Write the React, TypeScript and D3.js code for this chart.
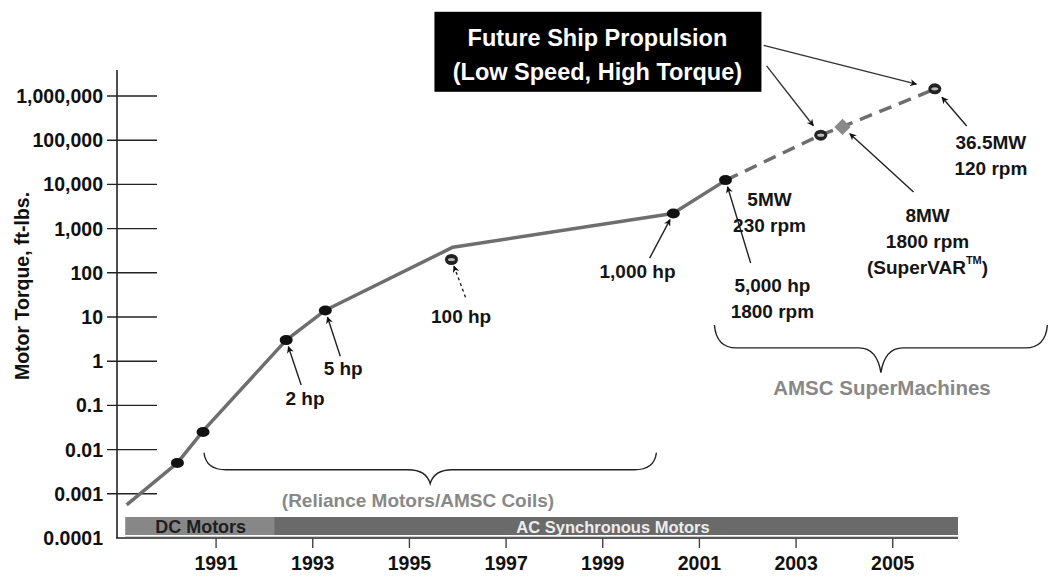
import React from "react";
import * as d3 from "d3";

// trend of motor torque (ft-lbs) by year
const trendYears = [1989.15, 1990.2, 1990.75, 1992.45, 1993.25, 1995.9, 2000.45, 2001.55];
const trendValues = [0.00056, 0.005, 0.028, 3, 14, 380, 2200, 12500];
const projYears = [2001.55, 2003.5, 2003.95, 2005.85];
const projValues = [12500, 130000, 200000, 1400000];

// marked machines
const pointYears = [1990.2, 1990.73, 1992.45, 1993.26, 1995.87, 2000.46, 2001.54, 2003.51, 2003.96, 2005.87];
const pointValues = [0.005, 0.025, 3, 14, 200, 2200, 12500, 130000, 200000, 1450000];
const pointKinds = ["dot", "dot", "dot", "dot", "ring", "dot", "dot", "ring", "diamond", "ring"];

const yTickValues = [1e-4, 1e-3, 1e-2, 0.1, 1, 10, 100, 1e3, 1e4, 1e5, 1e6];
const yTickLabels = ["0.0001", "0.001", "0.01", "0.1", "1", "10", "100", "1,000", "10,000", "100,000", "1,000,000"];
const xTickYears = [1991, 1993, 1995, 1997, 1999, 2001, 2003, 2005];

// annotation: text lines, label position, arrow tail, target point index
const notes = [
  { lines: ["2 hp"], at: [1992.84, 0.147], tail: [1992.76, 0.29], target: 2, dashed: false },
  { lines: ["5 hp"], at: [1993.63, 0.7], tail: [1993.57, 1.3], target: 3, dashed: false },
  { lines: ["100 hp"], at: [1996.07, 10.5], tail: [1996.16, 28], target: 4, dashed: true },
  { lines: ["1,000 hp"], at: [1999.72, 110], tail: [1999.97, 215], target: 5, dashed: false },
  { lines: ["5,000 hp", "1800 rpm"], at: [2002.51, 53], tail: [2002.06, 166], target: 6, dashed: false },
  { lines: ["5MW", "230 rpm"], at: [2002.45, 4700], tail: null, target: -1, dashed: false },
  { lines: ["8MW", "1800 rpm", "(SuperVAR"], at: [2005.72, 2040], tail: [2005.43, 6750], target: 8, dashed: false },
  { lines: ["36.5MW", "120 rpm"], at: [2007.03, 91000], tail: [2006.53, 210000], target: 9, dashed: false },
];

const boxArrows = [
  { tail: [2002.33, 1.4e7], target: 9, gap: 19 },
  { tail: [2002.39, 4.8e6], target: 7, gap: 12 },
];

const W = 1050;
const H = 577;
const FONT = "'Liberation Sans', Arial, sans-serif";

export default function App() {
  const x = d3.scaleLinear().domain([1988.95, 2006.35]).range([117, 958]);
  const y = d3.scaleLog().domain([1e-4, 1e6]).range([538, 96]);

  const toPath = d3.line<[number, number]>().x(d => x(d[0])).y(d => y(d[1]));
  const trendPath = toPath(trendYears.map((t, i) => [t, trendValues[i]]));
  const projPath = toPath(projYears.map((t, i) => [t, projValues[i]]));

  const arrow = (tx: number, ty: number, px: number, py: number, gap: number) => {
    const dx = px - tx, dy = py - ty;
    const len = Math.sqrt(dx * dx + dy * dy);
    return { x1: tx, y1: ty, x2: px - (dx / len) * gap, y2: py - (dy / len) * gap };
  };

  const brace = (x0: number, x1: number, top: number, mid: number, tip: number) => {
    const xm = (x0 + x1) / 2;
    return `M${x0},${top} Q${x0 + 2},${mid} ${x0 + 22},${mid} L${xm - 22},${mid} Q${xm - 4},${mid} ${xm},${tip} Q${xm + 4},${mid} ${xm + 22},${mid} L${x1 - 22},${mid} Q${x1 - 2},${mid} ${x1},${top}`;
  };

  const barTop = 517, barBot = 535;
  const dcEnd = x(1992.2);

  return (
    <div style={{ position: "absolute", left: 0, top: 0 }}>
      <svg width={W} height={H} style={{ display: "block", background: "#fff" }} fontFamily={FONT} fontWeight="bold">
        <defs>
          <marker id="ah" viewBox="0 0 10 10" refX="9" refY="5" markerWidth="7" markerHeight="7" orient="auto-start-reverse" markerUnits="userSpaceOnUse">
            <path d="M0,0 L10,5 L0,10 L3,5 Z" fill="#111" />
          </marker>
        </defs>

        {/* bottom era bar */}
        <rect x={x(1989.12)} y={barTop} width={dcEnd - x(1989.12)} height={barBot - barTop} fill="#878787" />
        <rect x={dcEnd} y={barTop} width={x(2006.35) - dcEnd} height={barBot - barTop} fill="#6a6a6a" />
        <line x1={x(1989.12)} x2={x(2006.35)} y1={barBot + 1.5} y2={barBot + 1.5} stroke="#d0d0d0" strokeWidth={1} />
        <text x={(x(1989.12) + dcEnd) / 2 + 1} y={(barTop + barBot) / 2 + 1} textAnchor="middle" dominantBaseline="central" fontSize={18} fill="#1e1e1e">DC Motors</text>
        <text x={613} y={(barTop + barBot) / 2 + 1} textAnchor="middle" dominantBaseline="central" fontSize={16.5} fill="#ededed">AC Synchronous Motors</text>

        {/* axes */}
        <line x1={117} x2={117} y1={70} y2={538} stroke="#222" strokeWidth={1.6} />
        <line x1={116} x2={x(2006.35)} y1={538} y2={538} stroke="#222" strokeWidth={1.6} />
        {yTickValues.map((v, i) => (
          <g key={"yt" + i}>
            {i > 0 && <line x1={107} x2={157} y1={y(v)} y2={y(v)} stroke="#222" strokeWidth={1.4} />}
            <text x={103} y={y(v)} textAnchor="end" dominantBaseline="central" fontSize={19.5} fill="#111">{yTickLabels[i]}</text>
          </g>
        ))}
        {xTickYears.map(t => (
          <g key={"xt" + t}>
            <line x1={x(t)} x2={x(t)} y1={538} y2={548} stroke="#444" strokeWidth={1.4} />
            <text x={x(t)} y={563} textAnchor="middle" dominantBaseline="central" fontSize={19.5} fill="#111">{t}</text>
          </g>
        ))}
        <text transform={`translate(22,286) rotate(-90)`} textAnchor="middle" dominantBaseline="central" fontSize={19.5} fill="#111">Motor Torque, ft-lbs.</text>

        {/* trend lines */}
        <path d={trendPath || ""} fill="none" stroke="#6e6e6e" strokeWidth={3.5} strokeLinejoin="round" />
        <path d={projPath || ""} fill="none" stroke="#6e6e6e" strokeWidth={3.5} strokeDasharray="13 8" />

        {/* markers */}
        {pointYears.map((t, i) => {
          const cx = x(t), cy = y(pointValues[i]);
          const k = pointKinds[i];
          if (k === "diamond")
            return <path key={"p" + i} transform={`translate(${cx},${cy})`} d={d3.symbol(d3.symbolDiamond2, 170)() || ""} fill="#8a8a8a" />;
          if (k === "ring")
            return (
              <g key={"p" + i}>
                <ellipse cx={cx} cy={cy} rx={6.5} ry={5.5} fill="#222" />
                <ellipse cx={cx} cy={cy} rx={3.5} ry={1.6} fill="#bbb" />
              </g>
            );
          return <ellipse key={"p" + i} cx={cx} cy={cy} rx={6.5} ry={5} fill="#111" />;
        })}

        {/* annotation arrows */}
        {notes.filter(n => n.tail).map((n, i) => {
          const a = arrow(x(n.tail![0]), y(n.tail![1]), x(pointYears[n.target]), y(pointValues[n.target]), n.target === 8 ? 10 : n.target === 9 ? 11 : 7);
          return <line key={"a" + i} {...a} stroke="#222" strokeWidth={1.4} strokeDasharray={n.dashed ? "3 3" : undefined} markerEnd="url(#ah)" />;
        })}
        {boxArrows.map((b, i) => {
          const a = arrow(x(b.tail[0]), y(b.tail[1]), x(pointYears[b.target]), y(pointValues[b.target]), b.gap);
          return <line key={"b" + i} {...a} stroke="#333" strokeWidth={1.4} markerEnd="url(#ah)" />;
        })}

        {/* annotation labels */}
        {notes.map((n, i) => (
          <text key={"n" + i} x={x(n.at[0])} y={y(n.at[1])} textAnchor="middle" dominantBaseline="central" fontSize={19} fill="#151515">
            {n.lines.map((l, j) => (
              <tspan key={j} x={x(n.at[0])} dy={j === 0 ? 0 : 26}>
                {l}
                {l === "(SuperVAR" && (
                  <>
                    <tspan fontSize={11} dy={-7}>TM</tspan>
                    <tspan dy={7}>)</tspan>
                  </>
                )}
              </tspan>
            ))}
          </text>
        ))}

        {/* callout box */}
        <rect x={x(1998.89) - 163} y={y(1e7) - 40} width={327} height={80} fill="#000" />
        <text x={x(1998.89)} y={y(1e7) - 14} textAnchor="middle" dominantBaseline="central" fontSize={23.5} fill="#fff">Future Ship Propulsion</text>
        <text x={x(1998.89)} y={y(1e7) + 20} textAnchor="middle" dominantBaseline="central" fontSize={23.5} fill="#fff">(Low Speed, High Torque)</text>

        {/* braces */}
        <path d={brace(x(1990.75), x(2000.11), y(0.0085), y(0.0035), y(0.0017))} fill="none" stroke="#222" strokeWidth={1.4} />
        <text x={418} y={y(0.0007)} textAnchor="middle" dominantBaseline="central" fontSize={19} fill="#888">(Reliance Motors/AMSC Coils)</text>
        <path d={brace(x(2001.31), x(2008.2), y(6.6), y(2), y(0.55))} fill="none" stroke="#222" strokeWidth={1.4} />
        <text x={882} y={y(0.26)} textAnchor="middle" dominantBaseline="central" fontSize={20.5} fill="#888">AMSC SuperMachines</text>
      </svg>
    </div>
  );
}
